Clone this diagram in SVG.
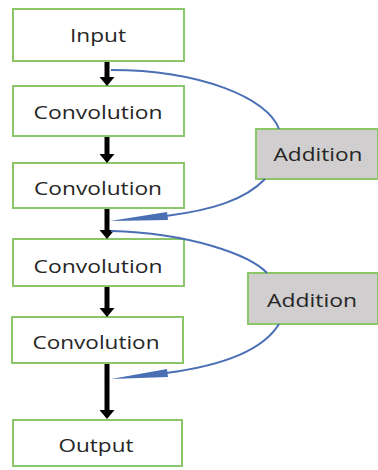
<svg xmlns="http://www.w3.org/2000/svg" width="378" height="470" viewBox="0 0 378 470">
<style>
.box{fill:#ffffff;stroke:#8cc66a;stroke-width:2}
.add{fill:#d0cece;stroke:#8cc66a;stroke-width:2}
.t{font-family:"Open Sans","Liberation Sans",sans-serif;font-size:19px;fill:#262626;text-anchor:middle}
.blk{stroke:#000000;stroke-width:5;fill:none}
.blue{stroke:#4a6fb5;stroke-width:2;fill:none}
</style>
<defs>
<marker id="ah" markerWidth="2" markerHeight="3" refX="0.4" refY="1.5" orient="auto" markerUnits="strokeWidth" overflow="visible">
<path d="M0,0 L1.8,1.5 L0,3 Z" fill="#000000"/>
</marker>
</defs>
<g id="input"><rect class="box" x="13" y="9" width="171" height="52"/><text class="t" x="98" y="42" textLength="56" lengthAdjust="spacingAndGlyphs">Input</text></g>
<g id="conv1"><rect class="box" x="13" y="86" width="171" height="50"/><text class="t" x="98" y="119" textLength="129" lengthAdjust="spacingAndGlyphs">Convolution</text></g>
<g id="conv2"><rect class="box" x="13" y="163" width="171" height="45"/><text class="t" x="98" y="195" textLength="128" lengthAdjust="spacingAndGlyphs">Convolution</text></g>
<g id="conv3"><rect class="box" x="13" y="239" width="171" height="47"/><text class="t" x="98" y="273" textLength="129" lengthAdjust="spacingAndGlyphs">Convolution</text></g>
<g id="conv4"><rect class="box" x="12" y="317" width="171" height="46"/><text class="t" x="96" y="349" textLength="127" lengthAdjust="spacingAndGlyphs">Convolution</text></g>
<g id="output"><rect class="box" x="13" y="420" width="169" height="46"/><text class="t" x="96" y="452" textLength="75" lengthAdjust="spacingAndGlyphs">Output</text></g>
<g id="addition1"><rect class="add" x="256" y="129" width="122" height="50"/><text class="t" x="318" y="161" textLength="89" lengthAdjust="spacingAndGlyphs">Addition</text></g>
<g id="addition2"><rect class="add" x="248" y="273" width="130" height="51"/><text class="t" x="312" y="307" textLength="90" lengthAdjust="spacingAndGlyphs">Addition</text></g>
<g id="connectors">
<line class="blk" x1="107" y1="62" x2="107" y2="79" marker-end="url(#ah)"/>
<line class="blk" x1="107" y1="137" x2="107" y2="156" marker-end="url(#ah)"/>
<line class="blk" x1="107" y1="209" x2="107" y2="232" marker-end="url(#ah)"/>
<line class="blk" x1="107" y1="287" x2="107" y2="310" marker-end="url(#ah)"/>
<line class="blk" x1="107" y1="364" x2="107" y2="412" marker-end="url(#ah)"/>
<path class="blue" d="M111,70 C200,70 268,98 279,129"/>
<path class="blue" d="M265,179 C245,200 212,210 166,216"/>
<polygon fill="#4a6fb5" points="110,221 167,212 168,220"/>
<path class="blue" d="M111,231 C190,233 250,255 267,273"/>
<path class="blue" d="M279,324 C262,352 220,366 166,373"/>
<polygon fill="#4a6fb5" points="111,379 167,369 168,377"/>
</g>
</svg>
